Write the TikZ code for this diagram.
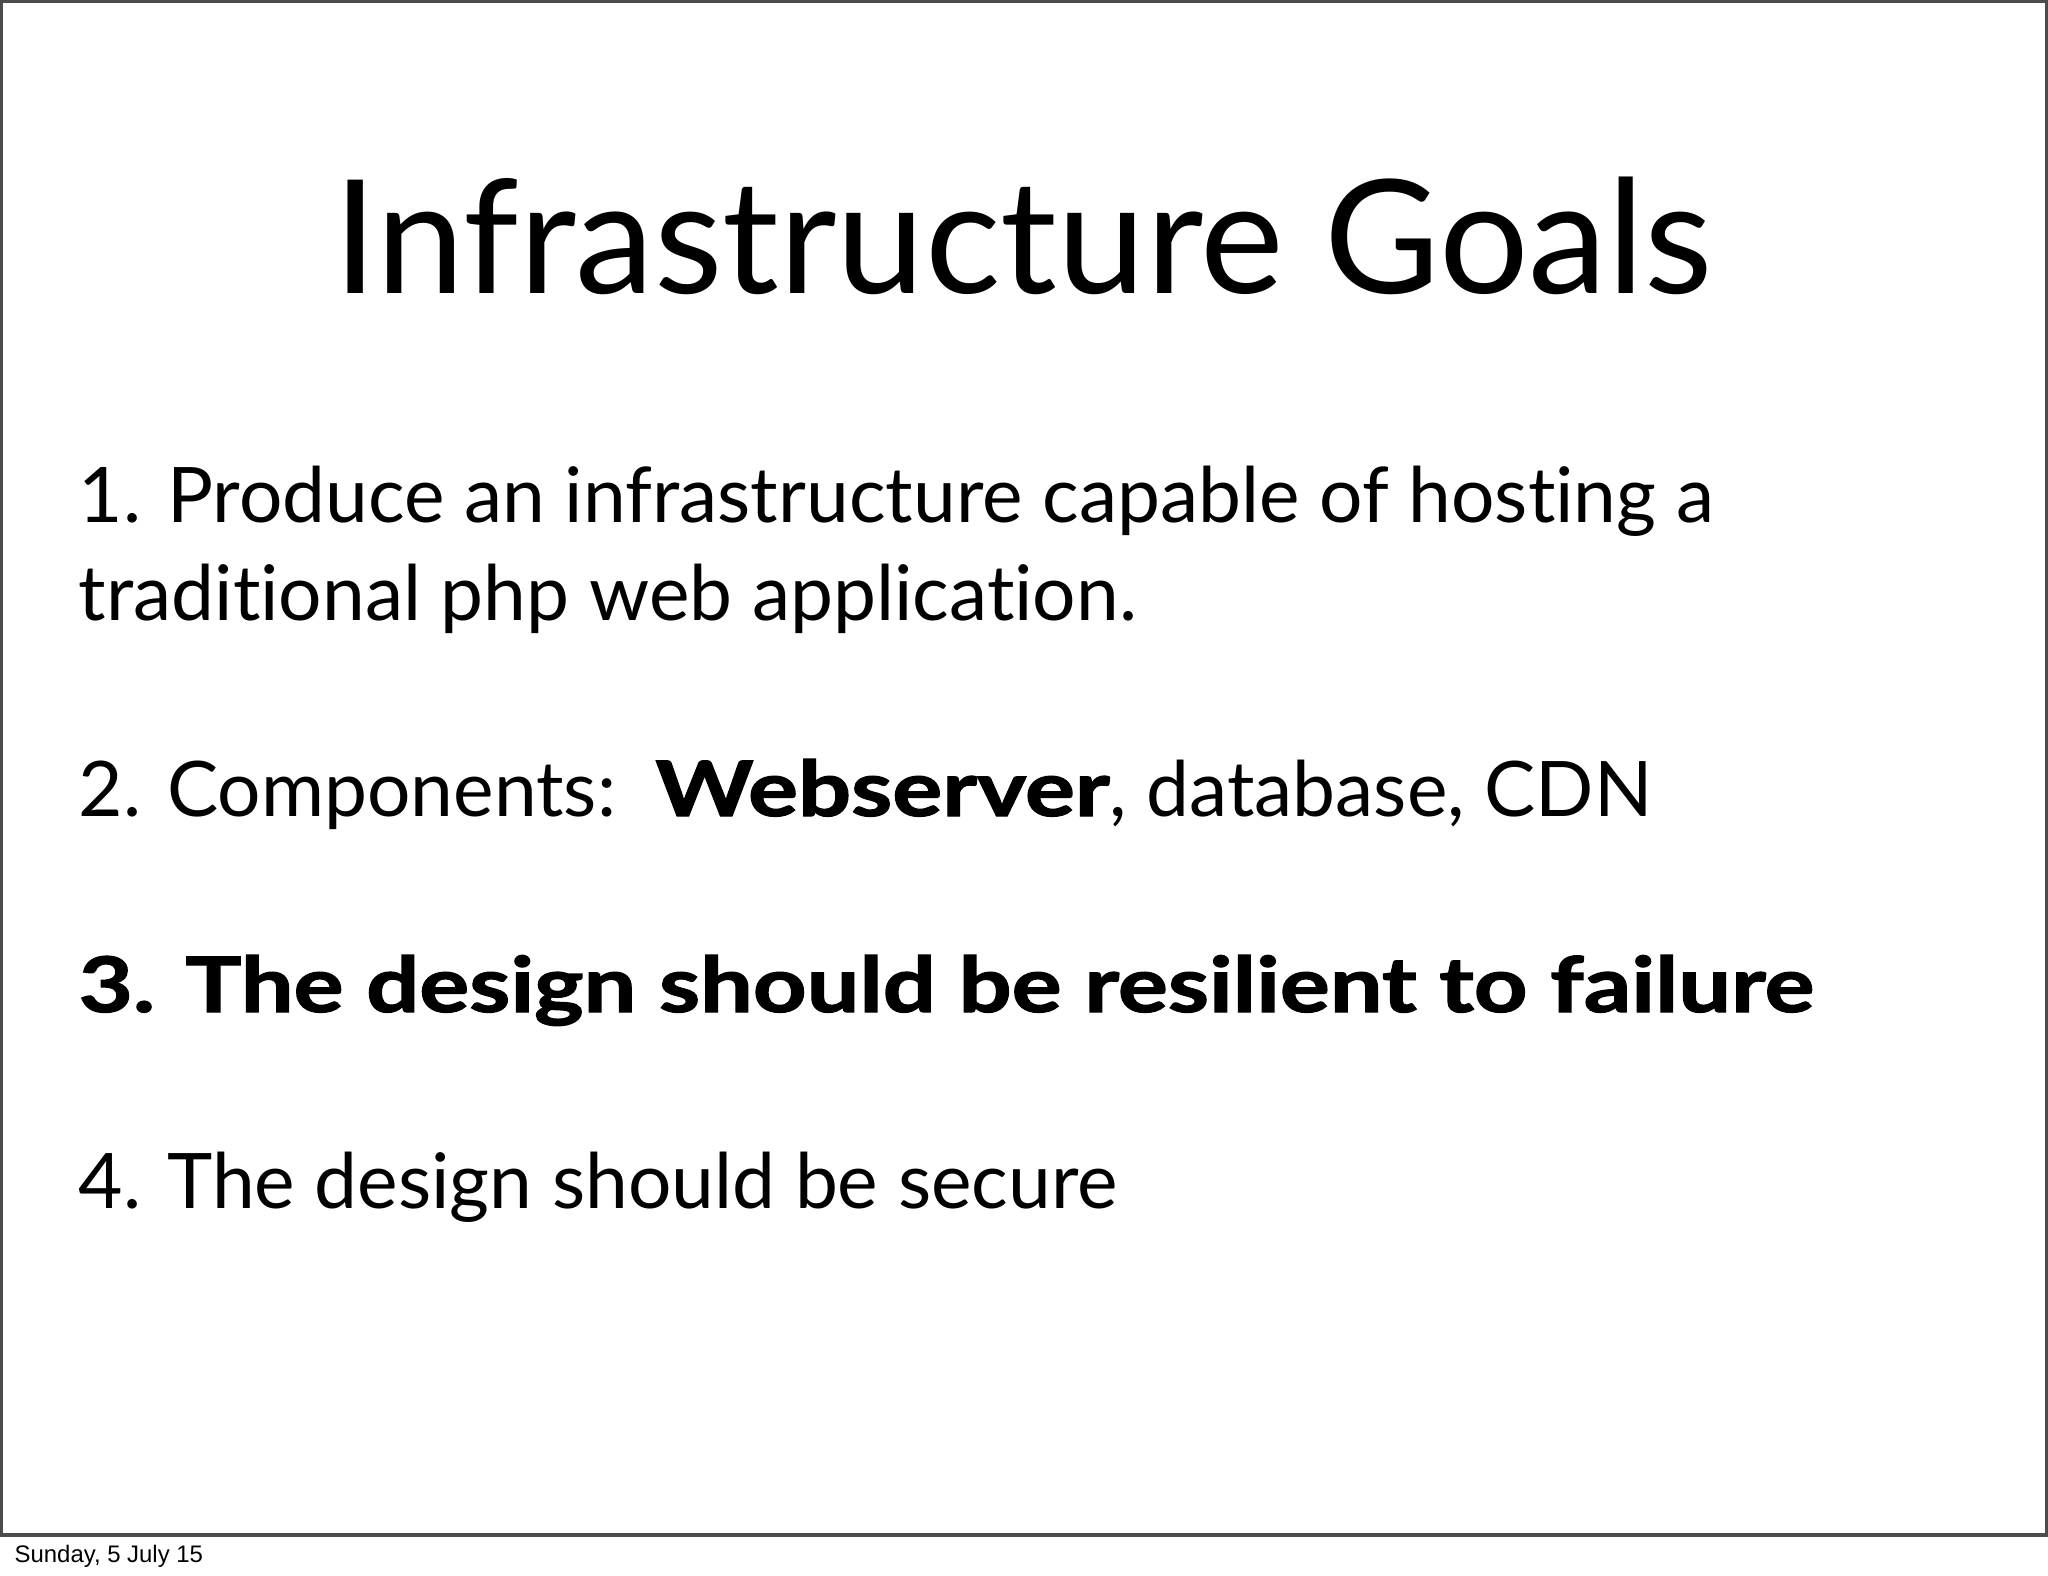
\documentclass[tikz,border=0pt]{standalone}
\usepackage{fontspec}
\setmainfont[Ligatures=NoCommon]{Lato}
\setsansfont{Liberation Sans}
\newcommand{\heavy}[1]{\scalebox{1.22}[1.0]{\addfontfeatures{FakeBold=1.5}\bfseries #1}}
\begin{document}
\begin{tikzpicture}[x=0.01cm,y=-0.01cm,
    title/.style={anchor=base,inner sep=0pt,font={\fontsize{45}{52}\selectfont}},
    item/.style={anchor=base west,inner sep=0pt,font={\fontsize{21.8}{26}\selectfont}},
    footer/.style={anchor=base west,inner sep=0pt,font={\sffamily\fontsize{6.8}{8}\selectfont}}]
    % page and slide frame
    \useasboundingbox (0,0) rectangle (2048,1576);
    \draw[line width=1.2pt,black!70] (1,1) rectangle (2047,1535);
    % title
    \node[title] (title) at (1023,294) {Infrastructure Goals};
    % goals
    \node[item] (goal1) at (78,522) {1. Produce an infrastructure capable of hosting a};
    \node[item] (goal1b) at (78,620) {traditional php web application.};
    \node[item] (goal2) at (78,816) {2. Components:\ \ \heavy{Webserver}, database, CDN};
    \node[item] (goal3) at (78,1012) {\heavy{3. The design should be resilient to failure}};
    \node[item] (goal4) at (78,1208) {4. The design should be secure};
    % date
    \node[footer] (date) at (14,1562) {Sunday, 5 July 15};
\end{tikzpicture}
\end{document}
